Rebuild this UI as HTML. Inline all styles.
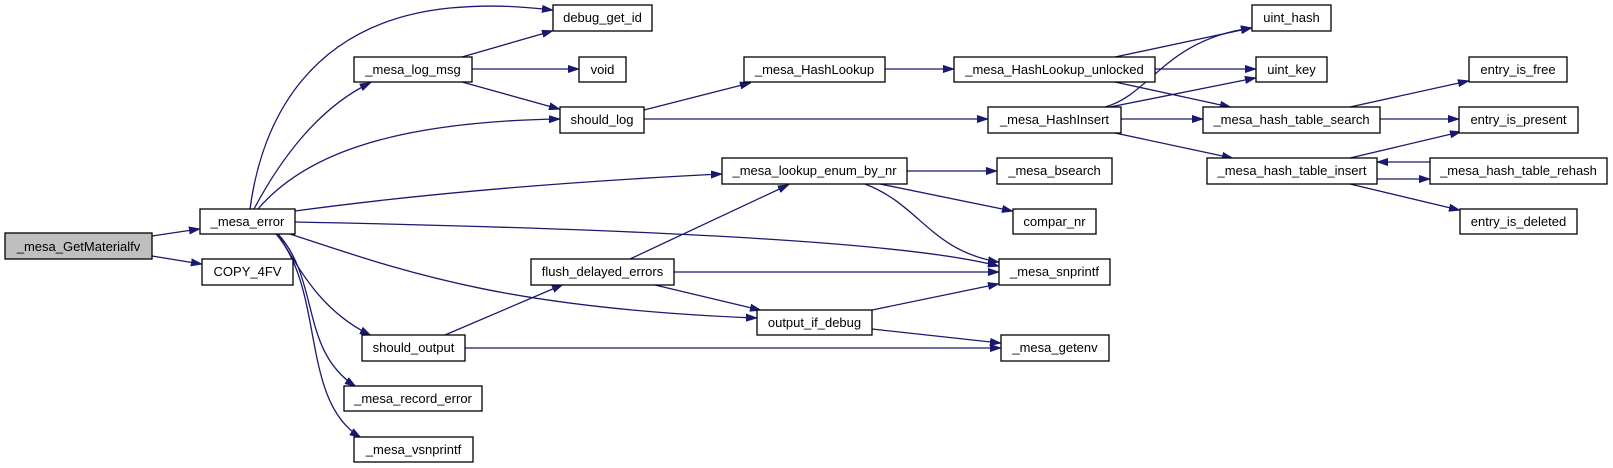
<!DOCTYPE html>
<html><head><meta charset="utf-8"><style>
html,body{margin:0;padding:0;background:#fff;}
svg{display:block}
text{font-family:"Liberation Sans",sans-serif;font-size:13px;fill:#000}
.n{fill:#fff;stroke:#000;stroke-width:1.3}
.e{fill:none;stroke:#191970;stroke-width:1.3}
</style></head><body>
<svg width="1613" height="468" viewBox="0 0 1613 468" xmlns="http://www.w3.org/2000/svg">
<defs><marker id="a" markerWidth="11" markerHeight="8" refX="10" refY="4" orient="auto" markerUnits="userSpaceOnUse"><path d="M0,0.5 L10.5,4 L0,7.5z" fill="#191970" stroke="#191970"/></marker></defs>
<g class="e" marker-end="url(#a)">
<path d="M152,236 L199,229"/>
<path d="M152,256 L201,264"/>
<path d="M250,209 C262,120 310,22 450,8 C495,4 525,7 552,10"/>
<path d="M254,209 C280,160 318,108 370,83"/>
<path d="M258,209 C300,160 380,122 559,119"/>
<path d="M295,211 C450,190 600,180 721,174"/>
<path d="M295,222 C600,228 900,240 998,266"/>
<path d="M290,234 C400,270 500,308 756,318"/>
<path d="M278,234 C300,270 320,310 370,335"/>
<path d="M278,234 C320,280 300,350 355,386"/>
<path d="M276,234 C325,290 300,400 360,437"/>
<path d="M462,57 L552,31"/>
<path d="M472,69 L578,69"/>
<path d="M462,82 L559,109"/>
<path d="M644,110 L750,83"/>
<path d="M644,119 L987,119"/>
<path d="M885,69 L953,69"/>
<path d="M1115,57 L1251,28"/>
<path d="M1155,69 L1255,69"/>
<path d="M1115,82 L1230,107"/>
<path d="M1105,107 C1150,95 1165,40 1251,28"/>
<path d="M1110,107 L1255,78"/>
<path d="M1121,119 L1202,119"/>
<path d="M1115,133 L1232,158"/>
<path d="M1350,107 L1468,81"/>
<path d="M1380,119 L1458,119"/>
<path d="M1350,158 L1460,132"/>
<path d="M1377,179 L1429,179"/>
<path d="M1430,162 L1378,162"/>
<path d="M1350,184 L1459,210"/>
<path d="M907,171 L996,171"/>
<path d="M880,184 L1012,211"/>
<path d="M865,184 C920,205 930,250 998,262"/>
<path d="M630,259 L788,185"/>
<path d="M674,272 L998,272"/>
<path d="M655,285 L760,310"/>
<path d="M445,335 L562,285"/>
<path d="M465,348 L1000,348"/>
<path d="M872,310 L998,284"/>
<path d="M872,329 L1000,343"/>
</g>
<g>
<rect x="5" y="233" width="147" height="26" style="fill:#bfbfbf;stroke:#000;stroke-width:1.3"/><text x="78.5" y="251" text-anchor="middle">_mesa_GetMaterialfv</text>
<rect class="n" x="200" y="209" width="95" height="25"/><text x="247.5" y="226" text-anchor="middle">_mesa_error</text>
<rect class="n" x="202" y="259" width="91" height="26"/><text x="247.5" y="276" text-anchor="middle">COPY_4FV</text>
<rect class="n" x="553" y="5" width="99" height="26"/><text x="602.5" y="22" text-anchor="middle">debug_get_id</text>
<rect class="n" x="354" y="57" width="118" height="25"/><text x="413" y="74" text-anchor="middle">_mesa_log_msg</text>
<rect class="n" x="579" y="57" width="47" height="25"/><text x="602.5" y="74" text-anchor="middle">void</text>
<rect class="n" x="560" y="107" width="84" height="26"/><text x="602" y="124" text-anchor="middle">should_log</text>
<rect class="n" x="531" y="259" width="143" height="26"/><text x="602.5" y="276" text-anchor="middle">flush_delayed_errors</text>
<rect class="n" x="362" y="335" width="103" height="26"/><text x="413.5" y="352" text-anchor="middle">should_output</text>
<rect class="n" x="344" y="386" width="138" height="25"/><text x="413" y="403" text-anchor="middle">_mesa_record_error</text>
<rect class="n" x="354" y="437" width="119" height="25"/><text x="413.5" y="454" text-anchor="middle">_mesa_vsnprintf</text>
<rect class="n" x="744" y="57" width="141" height="25"/><text x="814.5" y="74" text-anchor="middle">_mesa_HashLookup</text>
<rect class="n" x="722" y="158" width="185" height="26"/><text x="814.5" y="175" text-anchor="middle">_mesa_lookup_enum_by_nr</text>
<rect class="n" x="757" y="310" width="115" height="25"/><text x="814.5" y="327" text-anchor="middle">output_if_debug</text>
<rect class="n" x="954" y="57" width="201" height="25"/><text x="1054.5" y="74" text-anchor="middle">_mesa_HashLookup_unlocked</text>
<rect class="n" x="988" y="107" width="133" height="26"/><text x="1054.5" y="124" text-anchor="middle">_mesa_HashInsert</text>
<rect class="n" x="997" y="158" width="115" height="26"/><text x="1054.5" y="175" text-anchor="middle">_mesa_bsearch</text>
<rect class="n" x="1013" y="209" width="83" height="25"/><text x="1054.5" y="226" text-anchor="middle">compar_nr</text>
<rect class="n" x="999" y="259" width="111" height="26"/><text x="1054.5" y="276" text-anchor="middle">_mesa_snprintf</text>
<rect class="n" x="1001" y="335" width="108" height="26"/><text x="1055" y="352" text-anchor="middle">_mesa_getenv</text>
<rect class="n" x="1252" y="5" width="79" height="26"/><text x="1291.5" y="22" text-anchor="middle">uint_hash</text>
<rect class="n" x="1256" y="57" width="71" height="25"/><text x="1291.5" y="74" text-anchor="middle">uint_key</text>
<rect class="n" x="1203" y="107" width="177" height="26"/><text x="1291.5" y="124" text-anchor="middle">_mesa_hash_table_search</text>
<rect class="n" x="1207" y="158" width="170" height="26"/><text x="1292" y="175" text-anchor="middle">_mesa_hash_table_insert</text>
<rect class="n" x="1469" y="57" width="98" height="25"/><text x="1518" y="74" text-anchor="middle">entry_is_free</text>
<rect class="n" x="1459" y="107" width="119" height="26"/><text x="1518.5" y="124" text-anchor="middle">entry_is_present</text>
<rect class="n" x="1430" y="158" width="177" height="26"/><text x="1518.5" y="175" text-anchor="middle">_mesa_hash_table_rehash</text>
<rect class="n" x="1460" y="209" width="117" height="25"/><text x="1518.5" y="226" text-anchor="middle">entry_is_deleted</text>
</g>
</svg>
</body></html>
